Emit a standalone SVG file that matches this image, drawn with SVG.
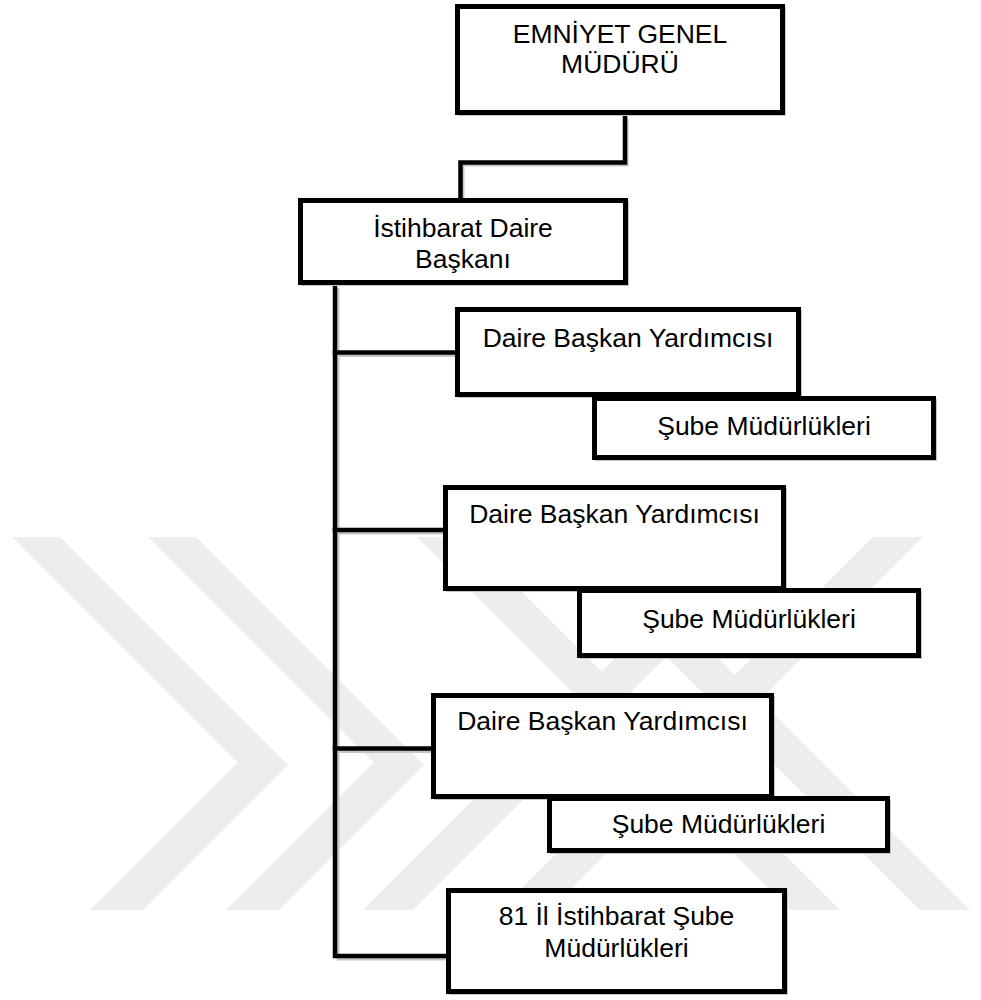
<svg xmlns="http://www.w3.org/2000/svg" width="981" height="1000" viewBox="0 0 981 1000">
  <style>
    .wm { fill: #ededed; stroke: none; }
    .box { fill: #ffffff; stroke: #000000; stroke-width: 5; }
    .bshadow { fill: none; stroke: #c6c6c6; stroke-width: 3; }
    .conn { fill: none; stroke: #000000; stroke-width: 4.5; stroke-linejoin: miter; stroke-linecap: square; }
    .cshadow { fill: none; stroke: #c6c6c6; stroke-width: 3; }
    .lbl { font-family: "Liberation Sans", Arial, sans-serif; font-size: 26.5px; fill: #000000; text-anchor: middle; }
  </style>
  <rect x="0" y="0" width="981" height="1000" fill="#ffffff"/>
  <g id="watermark">
    <polygon class="wm" points="12,537 60,537 288,765 143,910 90,910 237.5,762.5"/>
    <polygon class="wm" points="148,537 196,537 424,765 279,910 226,910 373.5,762.5"/>
    <polygon class="wm" points="363,910 413,910 786,537 736,537"/>
    <polygon class="wm" points="500,910 550,910 923,537 873,537"/>
    <polygon class="wm" points="417,537 467,537 840,910 790,910"/>
    <polygon class="wm" points="547,537 597,537 970,910 920,910"/>
  </g>
  <g id="connectors">
    <path class="cshadow" d="M627,118 V165 H463 V200"/>
    <path class="cshadow" d="M338,288 V959 H448"/>
    <path class="cshadow" d="M338,355.5 H456"/>
    <path class="cshadow" d="M338,533 H444"/>
    <path class="cshadow" d="M338,751.5 H432"/>
    <path class="conn" d="M625,115 V162.5 H460.5 V198"/>
    <path class="conn" d="M335,285 V956 H446"/>
    <path class="conn" d="M335,352.5 H455"/>
    <path class="conn" d="M335,530 H443"/>
    <path class="conn" d="M335,748.5 H431"/>
  </g>
  <g id="node-emniyet">
    <rect class="bshadow" x="459.5" y="8.5" width="325" height="106"/>
    <rect class="box" x="457.5" y="6.5" width="325" height="106"/>
    <text class="lbl" x="620" y="43">EMNİYET GENEL</text>
    <text class="lbl" x="620" y="73">MÜDÜRÜ</text>
  </g>
  <g id="node-daire-baskani">
    <rect class="bshadow" x="302.5" y="202.5" width="325" height="82"/>
    <rect class="box" x="300.5" y="200.5" width="325" height="82"/>
    <text class="lbl" x="463" y="237">İstihbarat Daire</text>
    <text class="lbl" x="463" y="268">Başkanı</text>
  </g>
  <g id="node-yardimci-1">
    <rect class="bshadow" x="459.5" y="311.5" width="341" height="85"/>
    <rect class="box" x="457.5" y="309.5" width="341" height="85"/>
    <text class="lbl" x="628" y="347">Daire Başkan Yardımcısı</text>
  </g>
  <g id="node-sube-1">
    <rect class="bshadow" x="596.5" y="400.5" width="339" height="59"/>
    <rect class="box" x="594.5" y="398.5" width="339" height="59"/>
    <text class="lbl" x="764" y="435">Şube Müdürlükleri</text>
  </g>
  <g id="node-yardimci-2">
    <rect class="bshadow" x="447.5" y="489.5" width="338" height="101"/>
    <rect class="box" x="445.5" y="487.5" width="338" height="101"/>
    <text class="lbl" x="614.5" y="523">Daire Başkan Yardımcısı</text>
  </g>
  <g id="node-sube-2">
    <rect class="bshadow" x="581.5" y="592.5" width="339" height="65"/>
    <rect class="box" x="579.5" y="590.5" width="339" height="65"/>
    <text class="lbl" x="749" y="628">Şube Müdürlükleri</text>
  </g>
  <g id="node-yardimci-3">
    <rect class="bshadow" x="435.5" y="697.5" width="338" height="101"/>
    <rect class="box" x="433.5" y="695.5" width="338" height="101"/>
    <text class="lbl" x="602.5" y="730">Daire Başkan Yardımcısı</text>
  </g>
  <g id="node-sube-3">
    <rect class="bshadow" x="551.5" y="800.5" width="338" height="52"/>
    <rect class="box" x="549.5" y="798.5" width="338" height="52"/>
    <text class="lbl" x="718.5" y="833">Şube Müdürlükleri</text>
  </g>
  <g id="node-il-sube">
    <rect class="bshadow" x="450.5" y="892.5" width="336" height="101"/>
    <rect class="box" x="448.5" y="890.5" width="336" height="101"/>
    <text class="lbl" x="616.5" y="925">81 İl İstihbarat Şube</text>
    <text class="lbl" x="616.5" y="957">Müdürlükleri</text>
  </g>
</svg>
